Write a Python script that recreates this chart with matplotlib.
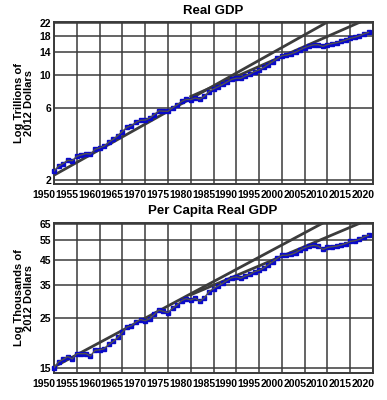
import matplotlib
matplotlib.use('Agg')
import matplotlib.pyplot as plt
import matplotlib.transforms as mtransforms
import numpy as np

# ---- data -------------------------------------------------------------
years = np.arange(1950, 2020)

# real GDP, trillions of 2012 dollars
real_gdp = [2.29, 2.47, 2.57, 2.70, 2.68, 2.87, 2.93, 2.99, 2.97, 3.19,
            3.27, 3.35, 3.56, 3.72, 3.94, 4.19, 4.47, 4.59, 4.82, 4.97,
            4.99, 5.15, 5.43, 5.74, 5.71, 5.70, 6.02, 6.29, 6.63, 6.84,
            6.82, 6.99, 6.87, 7.18, 7.70, 8.02, 8.30, 8.59, 8.94, 9.29,
            9.46, 9.45, 9.79, 10.07, 10.47, 10.74, 11.14, 11.65, 12.20, 12.79,
            13.33, 13.45, 13.70, 14.07, 14.59, 15.07, 15.47, 15.75, 15.75, 15.36,
            15.80, 16.04, 16.25, 16.56, 16.93, 17.39, 17.68, 18.08, 18.61, 19.04]

# real GDP per capita, thousands of 2012 dollars
per_capita = [15.1, 16.0, 16.4, 16.9, 16.5, 17.4, 17.4, 17.4, 17.0, 18.0,
              18.1, 18.3, 19.1, 19.7, 20.5, 21.6, 22.8, 23.1, 24.0, 24.6,
              24.3, 24.8, 25.9, 27.1, 26.7, 26.4, 27.6, 28.5, 29.8, 30.4,
              30.0, 30.5, 29.6, 30.7, 32.6, 33.7, 34.6, 35.5, 36.6, 37.6,
              37.9, 37.4, 38.3, 38.9, 40.0, 40.5, 41.5, 42.9, 44.3, 45.8,
              47.2, 47.2, 47.6, 48.5, 49.8, 51.0, 51.8, 52.2, 51.8, 50.1,
              51.1, 51.5, 51.8, 52.4, 53.2, 54.3, 54.7, 55.5, 56.9, 57.9]

# trend lines: (start year, end year), (start value, end value)
gdp_trend1 = ([1950, 2010], [2.15, 22.3])
gdp_trend2 = ([1980, 2017.2], [7.15, 22.3])
pc_trend1 = ([1950, 2009], [15.2, 65.5])
pc_trend2 = ([1980, 2017.2], [31.6, 65.5])

gdp_ticks = [2, 6, 10, 14, 18, 22]
pc_ticks = [15, 25, 35, 45, 55, 65]
year_ticks = list(range(1950, 2021, 5))

# ---- style ------------------------------------------------------------
FONT = ['Liberation Sans Narrow', 'Liberation Sans', 'DejaVu Sans']
GRID_COLOR = '#3a3a3a'
TREND_COLOR = '#3c3c3c'
MARKER_COLOR = '#0a0ac8'


def draw_panel(fig, rect, values, trends, yticks, ylim, title, ylabel, title_y):
    ax = fig.add_axes(rect)
    ax.set_yscale('log')
    ax.set_xlim(1950, 2020)
    ax.set_ylim(*ylim)

    ax.set_yticks(yticks)
    ax.set_yticklabels([str(t) for t in yticks])
    ax.yaxis.set_minor_locator(matplotlib.ticker.NullLocator())
    ax.set_xticks(year_ticks)
    ax.set_xticklabels([str(y) for y in year_ticks])

    ax.grid(True, color=GRID_COLOR, linewidth=1.1)
    ax.set_axisbelow(True)
    for sp in ax.spines.values():
        sp.set_color(GRID_COLOR)
        sp.set_linewidth(1.4)

    ax.tick_params(axis='both', length=0, pad=2, labelsize=7.5, colors='black')
    for lab in ax.get_xticklabels() + ax.get_yticklabels():
        lab.set_family(FONT)
        lab.set_fontweight('bold')
    # year labels sit a little to the left of their grid lines
    shift = mtransforms.ScaledTranslation(-10 / 100, -3 / 100, fig.dpi_scale_trans)
    for lab in ax.get_xticklabels():
        lab.set_transform(lab.get_transform() + shift)

    for xs, ys in trends:
        ax.plot(xs, ys, color=TREND_COLOR, linewidth=2.0, zorder=3)

    ax.plot(years, values, linestyle='none', marker='s', markersize=3.0,
            markerfacecolor=MARKER_COLOR, markeredgecolor=MARKER_COLOR,
            zorder=4, clip_on=False)
    ax.plot(years, values, color='#505050', linewidth=1.0, zorder=5)

    fig.text(0.55, title_y, title, ha='center', va='center',
             fontsize=9.5, fontweight='bold', family=['Liberation Sans', 'DejaVu Sans'])
    ax.set_ylabel(ylabel, fontsize=8.0, fontweight='bold',
                  family=['Liberation Sans', 'DejaVu Sans'], labelpad=4,
                  linespacing=1.05)
    return ax


fig = plt.figure(figsize=(3.87, 4.0), dpi=100)

draw_panel(fig, [0.1395, 0.54, 0.8245, 0.405], real_gdp,
           [gdp_trend1, gdp_trend2], gdp_ticks, (1.88, 22.3),
           'Real GDP', 'Log Trillions of\n2012 Dollars', 0.972)

draw_panel(fig, [0.1395, 0.0675, 0.8245, 0.375], per_capita,
           [pc_trend1, pc_trend2], pc_ticks, (14.3, 65.5),
           'Per Capita Real GDP', 'Log Thousands of\n2012 Dollars', 0.472)

fig.savefig('out.png', dpi=100)
